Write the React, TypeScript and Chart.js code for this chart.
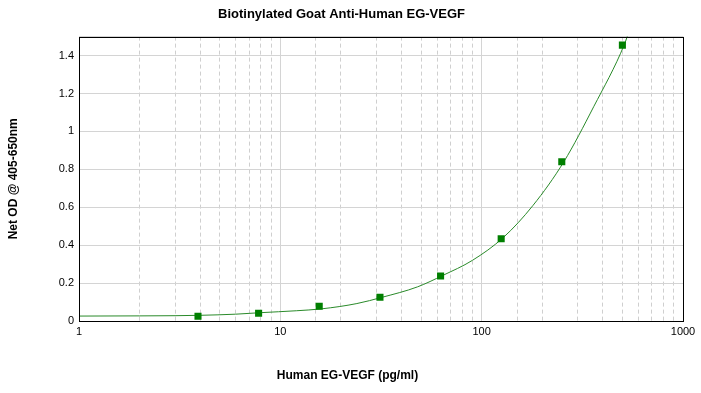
import React, { useEffect, useRef } from "react";
import { Chart, registerables } from "chart.js";

Chart.register(...registerables);

const TITLE = "Biotinylated Goat Anti-Human EG-VEGF";
const X_TITLE = "Human EG-VEGF (pg/ml)";
const Y_TITLE = "Net OD @ 405-650nm";

// standards (pg/ml) and measured OD
const concentrations = [3.9, 7.8, 15.6, 31.25, 62.5, 125, 250, 500];
const odValues = [0.025, 0.041, 0.078, 0.125, 0.237, 0.434, 0.84, 1.455];

// fitted curve
const curveX = [1, 2, 3, 4, 6, 8, 12, 16, 24, 32, 48, 64, 90, 128, 180, 256, 360, 512, 540];
const curveY = [0.026, 0.027, 0.028, 0.03, 0.036, 0.044, 0.054, 0.064, 0.092, 0.125, 0.18, 0.24, 0.32, 0.44, 0.61, 0.84, 1.13, 1.46, 1.53];

const X_MIN = 1;
const X_MAX = 1000;
const Y_MIN = 0;
const Y_MAX = 1.5;
const Y_STEP = 0.2;

const FONT = "Arial, 'Liberation Sans', sans-serif";

export default function App() {
  const ref = useRef<HTMLCanvasElement | null>(null);

  useEffect(() => {
    if (!ref.current) return;
    const isMajor = (v: number) => {
      const l = Math.log10(v);
      return Math.abs(l - Math.round(l)) < 1e-9;
    };

    const framePlugin = {
      id: "frameAndTitle",
      afterDraw(chart: any) {
        const { ctx, chartArea } = chart;
        ctx.save();
        ctx.strokeStyle = "#000";
        ctx.lineWidth = 1;
        ctx.strokeRect(
          Math.round(chartArea.left) + 0.5,
          Math.round(chartArea.top) + 0.5,
          Math.round(chartArea.right - chartArea.left),
          Math.round(chartArea.bottom - chartArea.top)
        );
        ctx.font = `bold 12px ${FONT}`;
        ctx.fillStyle = "#000";
        ctx.textAlign = "center";
        ctx.textBaseline = "middle";
        ctx.fillText(X_TITLE, chart.width / 2 - 3, 376);
        ctx.restore();
      },
    };

    const chart = new Chart(ref.current, {
      type: "scatter",
      data: {
        datasets: [
          {
            label: "Standards",
            data: concentrations.map((x, i) => ({ x, y: odValues[i] })),
            pointStyle: "rect",
            pointRadius: 5,
            backgroundColor: "#007f00",
            borderColor: "#007f00",
            borderWidth: 0,
            showLine: false,
            order: 0,
          },
          {
            label: "Fit",
            data: curveX.map((x, i) => ({ x, y: curveY[i] })),
            showLine: true,
            pointRadius: 0,
            borderColor: "#2a8a2a",
            borderWidth: 1,
            cubicInterpolationMode: "monotone",
            order: 1,
          },
        ],
      },
      options: {
        animation: false,
        responsive: false,
        layout: { padding: { left: 0, right: 18, top: 0, bottom: 0 } },
        plugins: {
          legend: { display: false },
          tooltip: { enabled: false },
          title: {
            display: true,
            text: TITLE,
            color: "#000",
            font: { family: FONT, size: 13, weight: "bold" },
            padding: { top: 7, bottom: 14 },
          },
        },
        scales: {
          x: {
            type: "logarithmic",
            min: X_MIN,
            max: X_MAX,
            border: {
              display: false,
              dash: (ctx: any) => (ctx.tick && isMajor(ctx.tick.value) ? [] : [4, 3]),
            },
            grid: {
              drawTicks: false,
              color: (ctx: any) => (ctx.tick && isMajor(ctx.tick.value) ? "#d4d4d4" : "#cfcfcf"),
            },
            ticks: {
              autoSkip: false,
              maxRotation: 0,
              padding: 4,
              color: "#000",
              font: { family: FONT, size: 11 },
              callback: (v: any) => (isMajor(Number(v)) ? String(v) : ""),
            },
            afterFit: (s: any) => {
              s.height = 72;
            },
          },
          y: {
            min: Y_MIN,
            max: Y_MAX,
            border: { display: false },
            grid: { drawTicks: false, color: "#d4d4d4" },
            ticks: {
              stepSize: Y_STEP,
              padding: 5,
              color: "#000",
              font: { family: FONT, size: 11 },
              callback: (v: any) => {
                const n = Number(v);
                if (n > 1.45) return "";
                return String(Math.round(n * 10) / 10);
              },
            },
            title: {
              display: true,
              text: Y_TITLE,
              color: "#000",
              font: { family: FONT, size: 12, weight: "bold" },
              padding: { top: 6, bottom: 0 },
            },
            afterFit: (s: any) => {
              s.width = 79;
            },
          },
        },
      },
      plugins: [framePlugin],
    } as any);
    return () => chart.destroy();
  }, []);

  return (
    <div style={{ position: "absolute", left: 0, top: 0, width: 701, height: 393, background: "#fff" }}>
      <canvas ref={ref} width={701} height={393} />
    </div>
  );
}
